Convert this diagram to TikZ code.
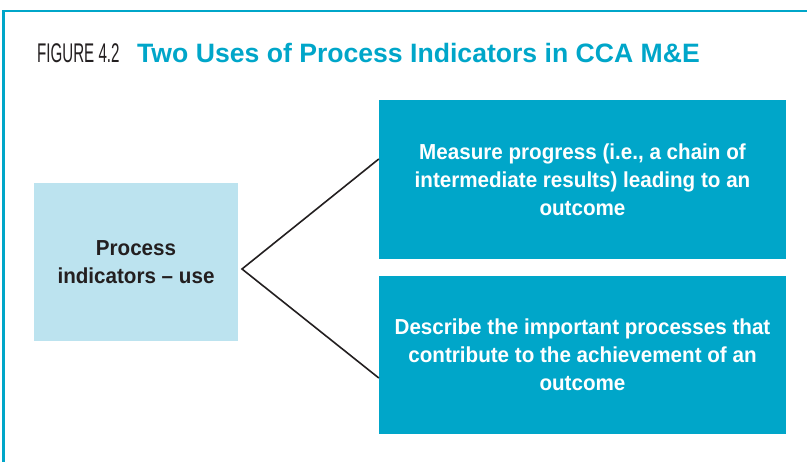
\documentclass[tikz,border=0pt]{standalone}
\usepackage{fontspec}
\setmainfont{Liberation Sans}
\newfontfamily\condfont[FakeStretch=0.95]{Liberation Sans}
\newfontfamily\figfont[FakeStretch=0.56]{Liberation Sans}
\definecolor{ccadark}{HTML}{00A6C9}
\definecolor{ccalight}{HTML}{BCE3EF}
\definecolor{ink}{HTML}{231F20}
\tikzset{
  darkbox/.style={rectangle, fill=ccadark, text=white, minimum width=407pt, inner sep=0pt,
    align=center, font=\condfont\bfseries\fontsize{21.7}{27.8}\selectfont},
  lightbox/.style={rectangle, fill=ccalight, text=ink, minimum width=204pt, minimum height=158pt,
    inner sep=0pt, align=center, font=\condfont\bfseries\fontsize{21.7}{27.8}\selectfont},
  conn/.style={draw=ink, line width=1.6pt, line join=miter},
  frame/.style={draw=ccadark, line width=2.8pt}
}
\begin{document}
\begin{tikzpicture}[x=1pt,y=-1pt]
\useasboundingbox (0,0) rectangle (807,462);
\fill[white] (0,0) rectangle (807,462);
\coordinate (fa) at (3.8,462);
\coordinate (fb) at (3.8,11);
\coordinate (fc) at (807,11);
\draw[frame] (fa) -- (fb) -- (fc);
\node[anchor=base west, inner sep=0pt, text=ink, font=\figfont\fontsize{27}{30}\selectfont] (figlab) at (37,63) {FIGURE 4.2};
\node[anchor=base west, inner sep=0pt, text=ccadark, font=\bfseries\fontsize{26.6}{30}\selectfont] (title) at (137,63) {Two Uses of Process Indicators in CCA M\&E};
\node[lightbox] (use) at (136,262) {Process\\indicators – use};
\node[darkbox, minimum height=159pt] (top) at (582.5,179.5) {Measure progress (i.e., a chain of\\intermediate results) leading to an\\outcome};
\node[darkbox, minimum height=158pt] (bot) at (582.5,355) {Describe the important processes that\\contribute to the achievement of an\\outcome};
\coordinate (v) at (242,269);
\coordinate (t1) at ([yshift=20.5pt]top.west);
\coordinate (b1) at ([yshift=-23pt]bot.west);
\draw[conn] (t1) -- (v) -- (b1);
\end{tikzpicture}
\end{document}
